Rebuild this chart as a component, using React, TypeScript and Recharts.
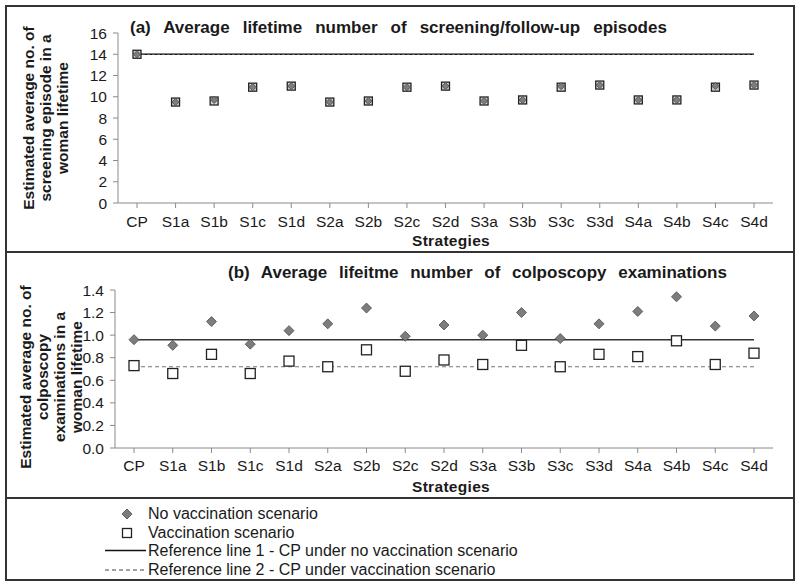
import * as React from "react";
import { ComposedChart, Line, Scatter, XAxis, YAxis } from "recharts";

const strategies = ["CP", "S1a", "S1b", "S1c", "S1d", "S2a", "S2b", "S2c", "S2d", "S3a", "S3b", "S3c", "S3d", "S4a", "S4b", "S4c", "S4d"];

// (a) screening/follow-up episodes
const episodesNoVacc = [14.0, 9.5, 9.7, 10.9, 11.0, 9.5, 9.6, 10.9, 11.0, 9.6, 9.7, 11.0, 11.1, 9.7, 9.7, 11.0, 11.1];
const episodesVacc = [14.0, 9.5, 9.6, 10.9, 11.0, 9.5, 9.6, 10.9, 11.0, 9.6, 9.7, 10.9, 11.1, 9.7, 9.7, 10.9, 11.1];
const episodesRef1 = 14.0;
const episodesRef2 = 14.0;
const episodesTicks = [0, 2, 4, 6, 8, 10, 12, 14, 16];

// (b) colposcopy examinations
const colpoNoVacc = [0.96, 0.91, 1.12, 0.92, 1.04, 1.1, 1.24, 0.99, 1.09, 1.0, 1.2, 0.97, 1.1, 1.21, 1.34, 1.08, 1.17];
const colpoVacc = [0.73, 0.66, 0.83, 0.66, 0.77, 0.72, 0.87, 0.68, 0.78, 0.74, 0.91, 0.72, 0.83, 0.81, 0.95, 0.74, 0.84];
const colpoRef1 = 0.96;
const colpoRef2 = 0.72;
const colpoTicks = [0, 0.2, 0.4, 0.6, 0.8, 1.0, 1.2, 1.4];

const legendItems = [
  "No vaccination scenario",
  "Vaccination scenario",
  "Reference line 1 - CP under no vaccination scenario",
  "Reference line 2 - CP under vaccination scenario",
];

const FONT = "'Liberation Sans', Arial, sans-serif";
const NARROW = "'Liberation Sans Narrow', 'Arial Narrow', 'Liberation Sans', sans-serif";
const INK = "#1a1a1a";
const AXIS_C = "#8a8a8a";
const TICK = { fill: INK, fontSize: 15.5, fontFamily: FONT };
const PAD = { left: 19, right: 19 };

const build = (a: number[], b: number[], r1: number, r2: number) =>
  strategies.map((s, i) => ({ name: s, noVacc: a[i], vacc: b[i], ref1: r1, ref2: r2 }));

const episodesData = build(episodesNoVacc, episodesVacc, episodesRef1, episodesRef2);
const colpoData = build(colpoNoVacc, colpoVacc, colpoRef1, colpoRef2);

function Diamond({ cx, cy, r = 5 }: any) {
  if (cx == null || cy == null) return null;
  return (
    <polygon
      points={`${cx},${cy - r} ${cx + r},${cy} ${cx},${cy + r} ${cx - r},${cy}`}
      fill="#7d7d7d"
      stroke="#4a4a4a"
      strokeWidth={0.8}
    />
  );
}

function Square({ cx, cy, s = 10, fill = "#fff" }: any) {
  if (cx == null || cy == null) return null;
  return <rect x={cx - s / 2} y={cy - s / 2} width={s} height={s} fill={fill} stroke="#222" strokeWidth={1.3} />;
}

function Rotated({ lines, cx, cy, len }: { lines: string[]; cx: number; cy: number; len: number }) {
  return (
    <div
      style={{
        position: "absolute", left: cx, top: cy, width: len,
        transform: "translate(-50%, -50%) rotate(-90deg)",
        textAlign: "center", fontFamily: FONT, fontWeight: "bold", fontSize: 15.5,
        lineHeight: "17px", color: INK, whiteSpace: "nowrap",
      }}
    >
      {lines.map((l) => (
        <div key={l}>{l}</div>
      ))}
    </div>
  );
}

function Abs({ x, y, children, style }: any) {
  return (
    <div style={{ position: "absolute", left: x, top: y, whiteSpace: "nowrap", fontFamily: FONT, color: INK, ...style }}>
      {children}
    </div>
  );
}

const titleStyle = { fontWeight: "bold", fontSize: 17, wordSpacing: 7, transform: "translateY(-50%)" };
const stratStyle = { fontWeight: "bold", fontSize: 15.5, letterSpacing: 0.3, transform: "translate(-50%, -50%)" };

export default function App() {
  return (
    <div style={{ position: "absolute", left: 0, top: 0, width: 800, height: 586, background: "#fff" }}>
      {/* panel (a) */}
      <div style={{ position: "absolute", left: 0, top: 0 }}>
        <ComposedChart width={800} height={250} data={episodesData} margin={{ top: 33, right: 27, bottom: 17, left: 0 }}>
          <XAxis
            dataKey="name" tick={TICK} height={30} interval={0} padding={PAD}
            axisLine={{ stroke: AXIS_C }} tickLine={{ stroke: AXIS_C }} tickSize={5} tickMargin={8}
          />
          <YAxis
            domain={[0, 16]} ticks={episodesTicks} width={118} tick={TICK} interval={0}
            axisLine={{ stroke: AXIS_C }} tickLine={{ stroke: AXIS_C }} tickSize={5} tickMargin={6}
          />
          <Line dataKey="ref1" stroke="#111" strokeWidth={1.5} dot={false} isAnimationActive={false} />
          <Line dataKey="ref2" stroke="#666" strokeWidth={1} strokeDasharray="3 2" dot={false} isAnimationActive={false} />
          <Scatter dataKey="vacc" shape={(p: any) => <Square {...p} s={8} fill="#d4d4d4" />} isAnimationActive={false} />
          <Scatter dataKey="noVacc" shape={(p: any) => <Diamond {...p} r={3.6} />} isAnimationActive={false} />
        </ComposedChart>
      </div>
      <Abs x={130} y={28} style={{ ...titleStyle, wordSpacing: 8.3 }}>
        (a) Average lifetime number of screening/follow-up episodes
      </Abs>
      <Rotated lines={["Estimated average no. of", "screening episode in a", "woman lifetime"]} cx={45} cy={118} len={200} />
      <Abs x={451} y={241} style={stratStyle}>Strategies</Abs>

      {/* panel (b) */}
      <div style={{ position: "absolute", left: 0, top: 252 }}>
        <ComposedChart width={800} height={246} data={colpoData} margin={{ top: 38, right: 27, bottom: 20, left: 0 }}>
          <XAxis
            dataKey="name" tick={TICK} height={30} interval={0} padding={PAD}
            axisLine={{ stroke: AXIS_C }} tickLine={{ stroke: AXIS_C }} tickSize={5} tickMargin={7}
          />
          <YAxis
            domain={[0, 1.4]} ticks={colpoTicks} width={115} tick={TICK} interval={0}
            tickFormatter={(v: number) => v.toFixed(1)}
            axisLine={{ stroke: AXIS_C }} tickLine={{ stroke: AXIS_C }} tickSize={5} tickMargin={6}
          />
          <Line dataKey="ref1" stroke="#333" strokeWidth={1.5} dot={false} isAnimationActive={false} />
          <Line dataKey="ref2" stroke="#777" strokeWidth={1.2} strokeDasharray="4 3" dot={false} isAnimationActive={false} />
          <Scatter dataKey="vacc" shape={(p: any) => <Square {...p} s={10} />} isAnimationActive={false} />
          <Scatter dataKey="noVacc" shape={(p: any) => <Diamond {...p} r={5} />} isAnimationActive={false} />
        </ComposedChart>
      </div>
      <Abs x={228} y={273} style={titleStyle}>(b) Average lifeitme number of colposcopy examinations</Abs>
      <Rotated
        lines={["Estimated average no. of", "colposcopy", "examinations in a", "woman lifetime"]}
        cx={51} cy={377} len={200}
      />
      <Abs x={451} y={487} style={stratStyle}>Strategies</Abs>

      {/* legend */}
      <svg style={{ position: "absolute", left: 0, top: 498 }} width={160} height={84}>
        <Diamond cx={127} cy={16} r={5} />
        <Square cx={127} cy={35} s={9} />
        <line x1={105} x2={146} y1={52.5} y2={52.5} stroke="#111" strokeWidth={1.3} />
        <line x1={105} x2={146} y1={72} y2={72} stroke="#444" strokeWidth={1} strokeDasharray="4 3" />
      </svg>
      {legendItems.map((t, i) => (
        <Abs key={t} x={148} y={514 + i * 18.5} style={{ fontFamily: NARROW, fontSize: 16, transform: "translateY(-50%)" }}>
          {t}
        </Abs>
      ))}

      {/* frame and panel dividers */}
      <div style={{ position: "absolute", left: 5, top: 5, width: 786, height: 572, border: "2px solid #333", pointerEvents: "none" }} />
      <div style={{ position: "absolute", left: 5, top: 251, width: 790, height: 2, background: "#333" }} />
      <div style={{ position: "absolute", left: 5, top: 497, width: 790, height: 2, background: "#333" }} />
    </div>
  );
}
